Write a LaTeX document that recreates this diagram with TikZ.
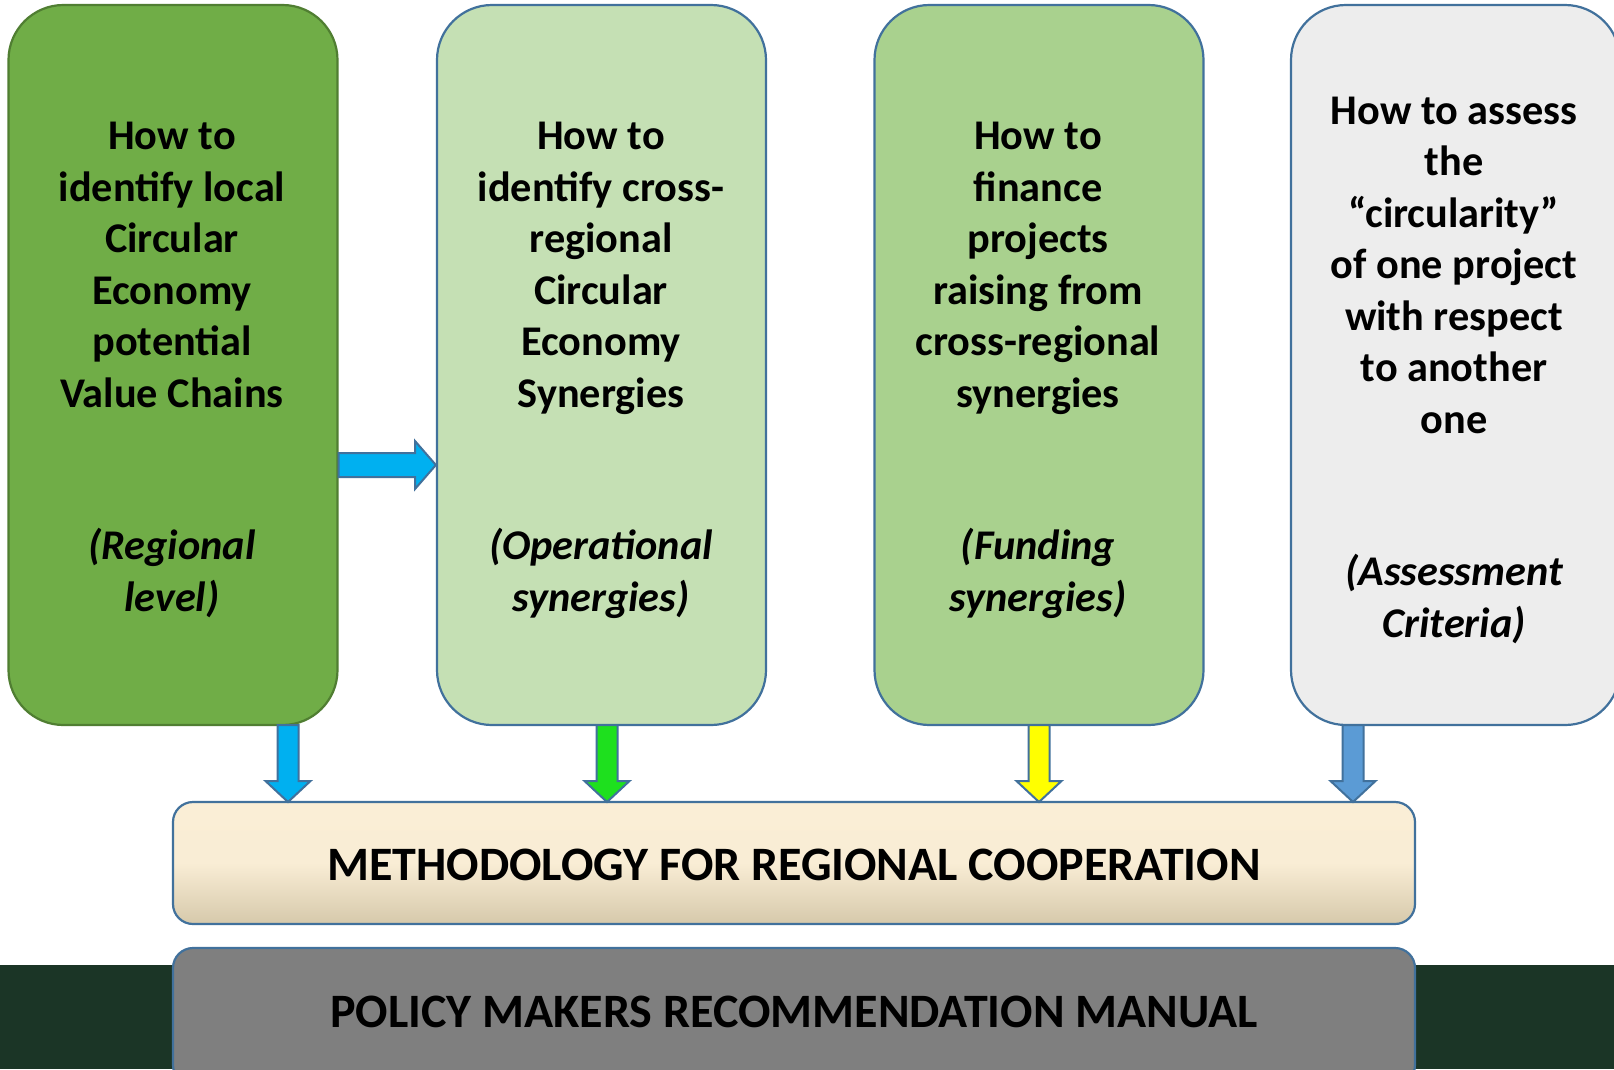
\documentclass[tikz,border=0pt]{standalone}
\usepackage{fontspec}
\setmainfont{Carlito}
\begin{document}
\begin{tikzpicture}[x=1pt,y=-1pt,
  box/.style={draw=boxblue,line width=2.2pt,rounded corners=55pt,minimum width=329pt,minimum height=720pt,inner sep=0pt},
  txt/.style={align=center,font=\fontsize{42.3}{51.5}\selectfont\bfseries,text=black,inner sep=0pt},
  itxt/.style={align=center,font=\fontsize{42.3}{51.5}\selectfont\bfseries\itshape,text=black,inner sep=0pt},
  bar/.style={draw=boxblue,line width=2.2pt,rounded corners=20pt,inner sep=0pt},
  bartxt/.style={font=\fontsize{48}{56}\selectfont\bfseries,inner sep=0pt},
  arr/.style={draw=boxblue,line width=2pt,line join=miter}]
\definecolor{boxblue}{HTML}{41719C}
\definecolor{g1}{HTML}{70AD47}
\definecolor{g1b}{HTML}{507E32}
\definecolor{g2}{HTML}{C5E0B4}
\definecolor{g3}{HTML}{A9D18E}
\definecolor{g4}{HTML}{EDEDED}
\definecolor{band}{HTML}{1B3526}
\definecolor{creamtop}{HTML}{FAEED6}
\definecolor{creambot}{HTML}{D6C9AB}
\definecolor{pgray}{HTML}{7F7F7F}
\definecolor{a1}{HTML}{00B0F0}
\definecolor{a2}{HTML}{1EE01E}
\definecolor{a3}{HTML}{FFFF00}
\definecolor{a4}{HTML}{5B9BD5}
\useasboundingbox (0,0) rectangle (1614,1069);
\fill[white] (0,0) rectangle (1614,1069);
\fill[band] (0,965) rectangle (1614,1069);

% boxes
\node[box,fill=g1,draw=g1b] (b1) at (173,365) {};
\node[box,fill=g2] (b2) at (601.5,365) {};
\node[box,fill=g3] (b3) at (1039,365) {};
\node[box,fill=g4] (b4) at (1455.5,365) {};

\node[txt] (t1) at (172,268) {\strut How to\\identify local\\Circular\\Economy\\potential\\Value Chains\strut};
\node[itxt] (i1) at (172,575) {\strut(Regional\\level)\strut};
\node[txt] (t2) at (601,268) {\strut How to\\identify cross-\\regional\\Circular\\Economy\\Synergies\strut};
\node[itxt] (i2) at (601,575) {\strut(Operational\\synergies)\strut};
\node[txt] (t3) at (1038,268) {\strut How to\\finance\\projects\\raising from\\cross-regional\\synergies\strut};
\node[itxt] (i3) at (1038,575) {\strut(Funding\\synergies)\strut};
\node[txt] (t4) at (1454,268.5) {\strut How to assess\\the\\“circularity”\\of one project\\with respect\\to another\\one\strut};
\node[itxt] (i4) at (1454,601) {\strut(Assessment\\Criteria)\strut};

% bars
\node[bar,minimum width=1242pt,minimum height=122pt,top color=creamtop,bottom color=creambot,middle color=creamtop!97!creambot] (m) at (794,863) {};
\node[bartxt] (mt) at (794,865) {METHODOLOGY FOR REGIONAL COOPERATION};
\node[bar,fill=pgray,minimum width=1242pt,minimum height=137pt] (p) at (794,1016.5) {};
\node[bartxt] (pt) at (794,1012) {POLICY MAKERS RECOMMENDATION MANUAL};

% right arrow b1 -> b2
\draw[arr,fill=a1] (b1.east |- 0,453) -- (415,453) -- (415,441) -- (b2.west |- 0,465) -- (415,489) -- (415,477) -- (b1.east |- 0,477) -- cycle;

% down arrows
\foreach \xc/\col/\src in {288/a1/b1, 607/a2/b2, 1039/a3/b3, 1353/a4/b4}{
  \draw[arr,fill=\col] (\xc-10.5,725) -- (\xc-10.5,781) -- (\xc-22.5,781) -- (\xc,802) -- (\xc+22.5,781) -- (\xc+10.5,781) -- (\xc+10.5,725) -- cycle;
}
\end{tikzpicture}
\end{document}
